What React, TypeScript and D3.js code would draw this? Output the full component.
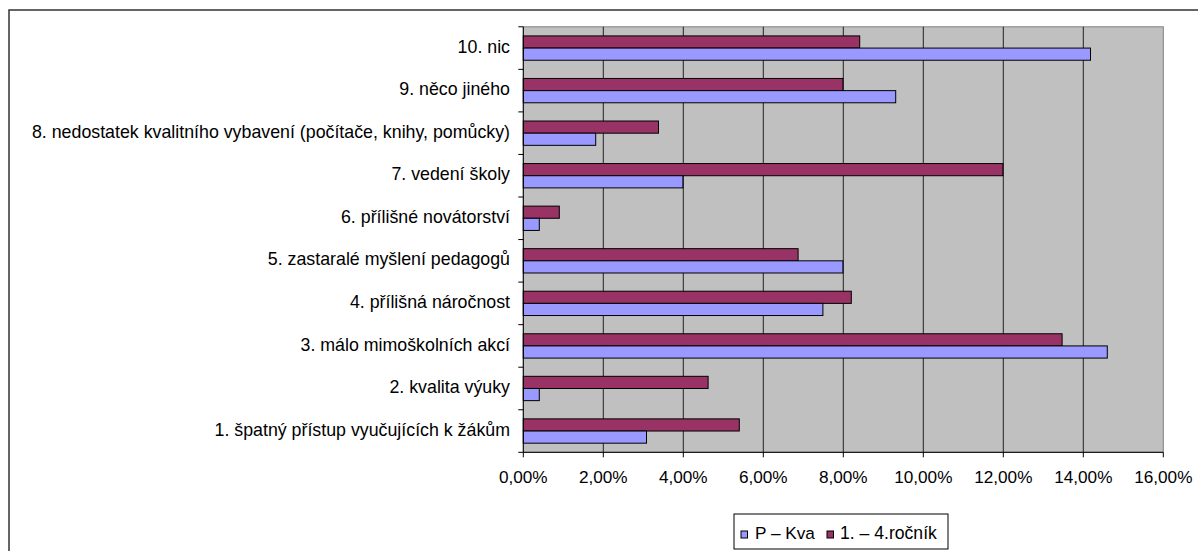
import React from "react";
import * as d3 from "d3";

const categories = [
  "1. špatný přístup vyučujících k žákům",
  "2. kvalita výuky",
  "3. málo mimoškolních akcí",
  "4. přílišná náročnost",
  "5. zastaralé myšlení pedagogů",
  "6. přílišné novátorství",
  "7. vedení školy",
  "8. nedostatek kvalitního vybavení (počítače, knihy, pomůcky)",
  "9. něco jiného",
  "10. nic",
];
const seriesNames = ["P – Kva", "1. – 4.ročník"];
const pKva = [3.08, 0.4, 14.6, 7.49, 7.99, 0.4, 3.99, 1.81, 9.31, 14.18];
const rocnik = [5.4, 4.62, 13.47, 8.2, 6.87, 0.9, 11.99, 3.38, 7.99, 8.41];
const xTicks = [0, 2, 4, 6, 8, 10, 12, 14, 16];

const colors = ["#9999FF", "#993366"];
const font = "'Liberation Sans', Arial, sans-serif";

export default function App() {
  const W = 1198, H = 551;
  const left = 523.3, right = 1163.3, top = 26.8, bottom = 452.3;
  const x = d3.scaleLinear().domain([0, 16]).range([left, right]);
  const order = categories.map((_, i) => i).reverse();
  const y = d3.scaleBand<number>().domain(order).range([top, bottom]).paddingInner(0).paddingOuter(0);
  const bw = y.bandwidth();
  const h = bw / 3.5;
  const off = 0.75 * h;

  return (
    <svg width={W} height={H} style={{ position: "absolute", left: 0, top: 0 }} fontFamily={font}>
      <rect x={0} y={0} width={W} height={H} fill="#fff" />
      <rect x={9} y={10} width={1300} height={700} fill="none" stroke="#333" strokeWidth={1.5} />
      <rect x={left} y={top} width={right - left} height={bottom - top} fill="#C0C0C0" stroke="#808080" strokeWidth={1} />
      {xTicks.slice(1, -1).map((t) => (
        <line key={t} x1={x(t)} x2={x(t)} y1={top} y2={bottom} stroke="#222" strokeWidth={1} />
      ))}
      {order.map((i) => {
        const y0 = y(i)!;
        return (
          <g key={i}>
            <rect x={x(0)} y={y0 + off} width={x(rocnik[i]) - x(0)} height={h} fill={colors[1]} stroke="#000" strokeWidth={1} />
            <rect x={x(0)} y={y0 + off + h} width={x(pKva[i]) - x(0)} height={h} fill={colors[0]} stroke="#000" strokeWidth={1} />
            <text x={510} y={y0 + bw / 2 + 4.6} textAnchor="end" fontSize={17.8} fill="#000">
              {categories[i]}
            </text>
          </g>
        );
      })}
      {/* y axis */}
      <line x1={left} x2={left} y1={top} y2={bottom} stroke="#000" />
      {order.map((i) => (
        <line key={"t" + i} x1={left - 5} x2={left} y1={y(i)!} y2={y(i)!} stroke="#000" />
      ))}
      <line x1={left - 5} x2={left} y1={bottom} y2={bottom} stroke="#000" />
      {/* x axis */}
      <line x1={left} x2={right} y1={bottom} y2={bottom} stroke="#000" />
      {xTicks.map((t) => (
        <g key={"x" + t}>
          <line x1={x(t)} x2={x(t)} y1={bottom} y2={bottom + 5} stroke="#000" />
          <text x={x(t)} y={483.3} textAnchor="middle" fontSize={17.2} fill="#000">
            {t.toFixed(2).replace(".", ",") + "%"}
          </text>
        </g>
      ))}
      {/* legend */}
      <rect x={734} y={514} width={214} height={35} fill="#fff" stroke="#000" strokeWidth={1} />
      <rect x={741} y={531} width={6.5} height={7} fill={colors[0]} stroke="#000" />
      <text x={755} y={538.5} fontSize={17.2} fill="#000">{seriesNames[0]}</text>
      <rect x={827} y={531} width={6.5} height={7} fill={colors[1]} stroke="#000" />
      <text x={840} y={538.5} fontSize={17.6} fill="#000">{seriesNames[1]}</text>
    </svg>
  );
}
